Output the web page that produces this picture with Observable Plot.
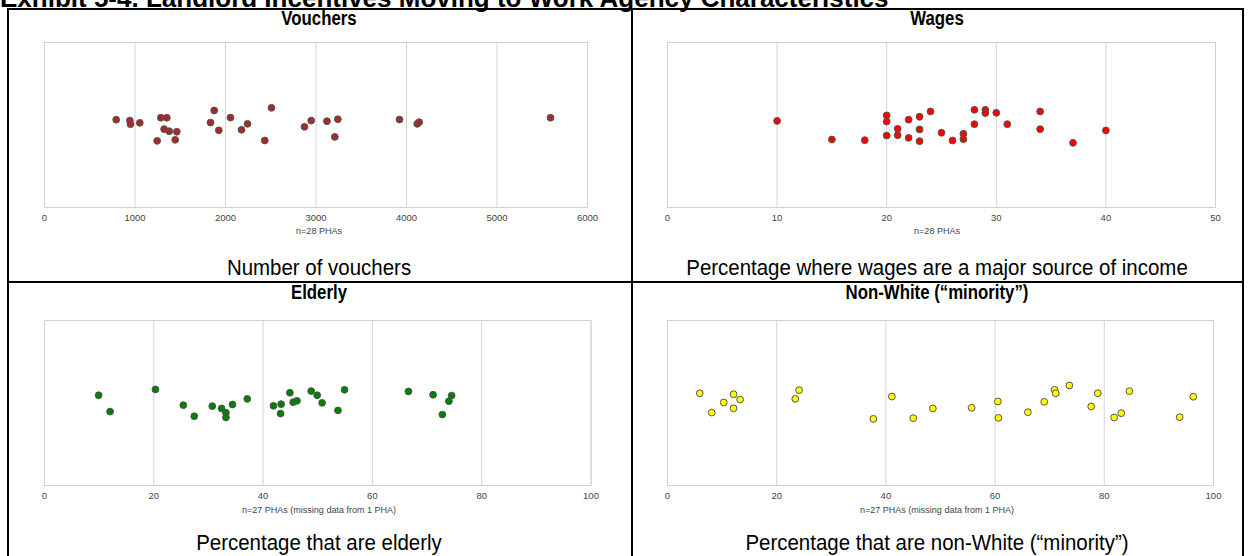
<!DOCTYPE html>
<html><head><meta charset="utf-8">
<script src="https://cdn.jsdelivr.net/npm/d3@7"></script>
<script src="https://cdn.jsdelivr.net/npm/@observablehq/plot@0.6"></script>
<style>
body{margin:0;background:#fff;}
#root{position:relative;width:1250px;height:556px;overflow:hidden;background:#fff;font-family:"Liberation Sans",Arial,sans-serif;}
.abs{position:absolute;}
.title{left:0;top:-15px;font-weight:bold;font-size:26px;line-height:26px;white-space:nowrap;color:#000;}
.hdr{font-weight:bold;font-size:21px;text-align:center;line-height:20px;color:#000;transform:scaleX(0.8);transform-origin:50% 50%;white-space:nowrap;}
.cap{font-size:22px;text-align:center;line-height:20px;color:#000;transform:scaleX(0.93);transform-origin:50% 50%;white-space:nowrap;}
.note{font-size:9px;text-align:center;line-height:10px;color:#444;}
.line{background:#000;}
</style></head>
<body><div id="root"></div>
<script>
// ---- data ----
const voucherTicks = [0, 1000, 2000, 3000, 4000, 5000, 6000];
const wageTicks = [0, 10, 20, 30, 40, 50];
const pctTicks = [0, 20, 40, 60, 80, 100];

const voucherValues = [792, 943, 950, 1053, 1245, 1285, 1322, 1352, 1378, 1444, 1462, 1834, 1875, 1926, 2055, 2177, 2243, 2434, 2508, 2873, 2947, 3121, 3208, 3241, 3923, 4118, 4140, 5591];
const voucherJitter = [0.032, 0.027, 0.005, 0.013, -0.096, 0.044, -0.025, 0.044, -0.038, -0.090, -0.041, 0.015, 0.088, -0.032, 0.045, -0.029, 0.007, -0.094, 0.104, -0.011, 0.027, 0.023, -0.072, 0.035, 0.033, 0.007, 0.017, 0.044];

const wageValues = [10, 15, 18, 20, 20, 20, 21, 21, 22, 22, 23, 23, 23, 24, 25, 26, 27, 27, 28, 28, 29, 29, 30, 31, 34, 34, 37, 40];
const wageJitter = [0.025, -0.088, -0.092, 0.058, 0.021, -0.064, -0.023, -0.062, 0.032, -0.078, 0.050, -0.027, -0.098, 0.082, -0.047, -0.094, -0.053, -0.086, 0.092, 0.005, 0.092, 0.072, 0.074, 0.005, 0.082, -0.025, -0.108, -0.033];

const elderlyValues = [9.9, 12.0, 20.3, 25.4, 27.4, 30.7, 32.4, 33.2, 33.2, 34.4, 37.1, 41.9, 43.3, 43.2, 44.9, 45.5, 46.2, 48.8, 49.9, 50.8, 53.7, 54.9, 66.6, 71.1, 72.8, 74.0, 74.5];
const elderlyJitter = [0.047, -0.052, 0.082, -0.013, -0.080, -0.019, -0.033, -0.059, -0.088, -0.009, 0.025, -0.017, -0.007, -0.064, 0.062, 0.005, 0.013, 0.072, 0.047, 0.001, -0.045, 0.080, 0.070, 0.050, -0.070, 0.011, 0.045];

const minorityValues = [5.9, 8.1, 10.3, 12.1, 12.1, 13.3, 23.4, 24.1, 37.7, 41.1, 45.0, 48.6, 55.7, 60.5, 60.6, 66.0, 69.0, 70.9, 71.1, 73.6, 77.6, 78.8, 81.8, 83.1, 84.6, 93.8, 96.3];
const minorityJitter = [0.059, -0.058, 0.003, 0.053, -0.032, 0.021, 0.025, 0.078, -0.096, 0.039, -0.092, -0.033, -0.029, 0.009, -0.090, -0.056, 0.007, 0.080, 0.059, 0.106, -0.021, 0.059, -0.088, -0.062, 0.072, -0.086, 0.038];

const headers = ["Vouchers", "Wages", "Elderly", "Non-White (\u201cminority\u201d)"];
const captions = ["Number of vouchers", "Percentage where wages are a major source of income", "Percentage that are elderly", "Percentage that are non-White (\u201cminority\u201d)"];
const notes = ["n=28 PHAs", "n=28 PHAs", "n=27 PHAs (missing data from 1 PHA)", "n=27 PHAs (missing data from 1 PHA)"];
const colors = ["#a52a2a", "#ff0000", "#008000", "#ffff00"];
const titleText = "Exhibit 5-4. Landlord Incentives Moving to Work Agency Characteristics";

// ---- layout ----
const root = document.getElementById("root");
function div(cls, css, text) {
  const d = document.createElement("div");
  d.className = "abs " + cls;
  Object.assign(d.style, css);
  if (text != null) d.textContent = text;
  root.appendChild(d);
  return d;
}
div("title", {}, titleText);
// table lines
const L = 7, R = 1243, T = 8, MX = 631, MY = 281, B = 560;
div("line", {left: L + "px", top: T + "px", width: (R - L) + "px", height: "2px"});
div("line", {left: L + "px", top: MY + "px", width: (R - L) + "px", height: "2px"});
div("line", {left: L + "px", top: T + "px", width: "2px", height: (B - T) + "px"});
div("line", {left: MX + "px", top: T + "px", width: "2px", height: (B - T) + "px"});
div("line", {left: (R - 1) + "px", top: T + "px", width: "2px", height: (B - T) + "px"});

const panels = [
  {values: voucherValues, jitter: voucherJitter, domain: [0, 6000], ticks: voucherTicks,
   fx0: 44, fx1: 587, fy0: 42, fy1: 207, cx0: L, cx1: MX, hy: 18, ny: 231, cy: 268},
  {values: wageValues, jitter: wageJitter, domain: [0, 50], ticks: wageTicks,
   fx0: 667, fx1: 1215, fy0: 42, fy1: 207, cx0: MX, cx1: R, hy: 18, ny: 231, cy: 268},
  {values: elderlyValues, jitter: elderlyJitter, domain: [0, 100], ticks: pctTicks,
   fx0: 43.5, fx1: 590, fy0: 320, fy1: 485, cx0: L, cx1: MX, hy: 292, ny: 510, cy: 543},
  {values: minorityValues, jitter: minorityJitter, domain: [0, 100], ticks: pctTicks,
   fx0: 667, fx1: 1213, fy0: 320, fy1: 485, cx0: MX, cx1: R, hy: 292, ny: 510, cy: 543}
];

panels.forEach((p, i) => {
  const data = p.values.map((v, k) => ({v, j: p.jitter[k]}));
  const mL = 15, mR = 15, mT = 5, mB = 22;
  const W = (p.fx1 - p.fx0) + mL + mR;
  const H = (p.fy1 - p.fy0) + mT + mB;
  const chart = Plot.plot({
    width: W, height: H,
    marginLeft: mL, marginRight: mR, marginTop: mT, marginBottom: mB,
    style: {background: "transparent", fontFamily: "Liberation Sans, Arial, sans-serif", overflow: "visible"},
    x: {domain: p.domain},
    y: {domain: [-0.5, 0.5], axis: null},
    marks: [
      Plot.gridX(p.ticks, {stroke: "#d6d6d6", strokeOpacity: 1, strokeWidth: 1}),
      Plot.frame({stroke: "#d0d0d0", strokeWidth: 1}),
      Plot.axisX(p.ticks, {tickSize: 0, tickPadding: 7, tickFormat: d => String(d), fontSize: 9.5, fill: "#444", label: null}),
      Plot.dot(data, {x: "v", y: "j", r: 3.4, fill: colors[i], stroke: "#555", strokeWidth: 1, fillOpacity: 1})
    ]
  });
  chart.style.position = "absolute";
  chart.style.left = (p.fx0 - mL) + "px";
  chart.style.top = (p.fy0 - mT) + "px";
  root.appendChild(chart);
  const cw = p.cx1 - p.cx0;
  div("hdr", {left: p.cx0 + "px", width: cw + "px", top: (p.hy - 10) + "px"}, headers[i]);
  div("note", {left: p.cx0 + "px", width: cw + "px", top: (p.ny - 5) + "px"}, notes[i]);
  div("cap", {left: p.cx0 + "px", width: cw + "px", top: (p.cy - 10) + "px"}, captions[i]);
});
</script>
</body></html>
